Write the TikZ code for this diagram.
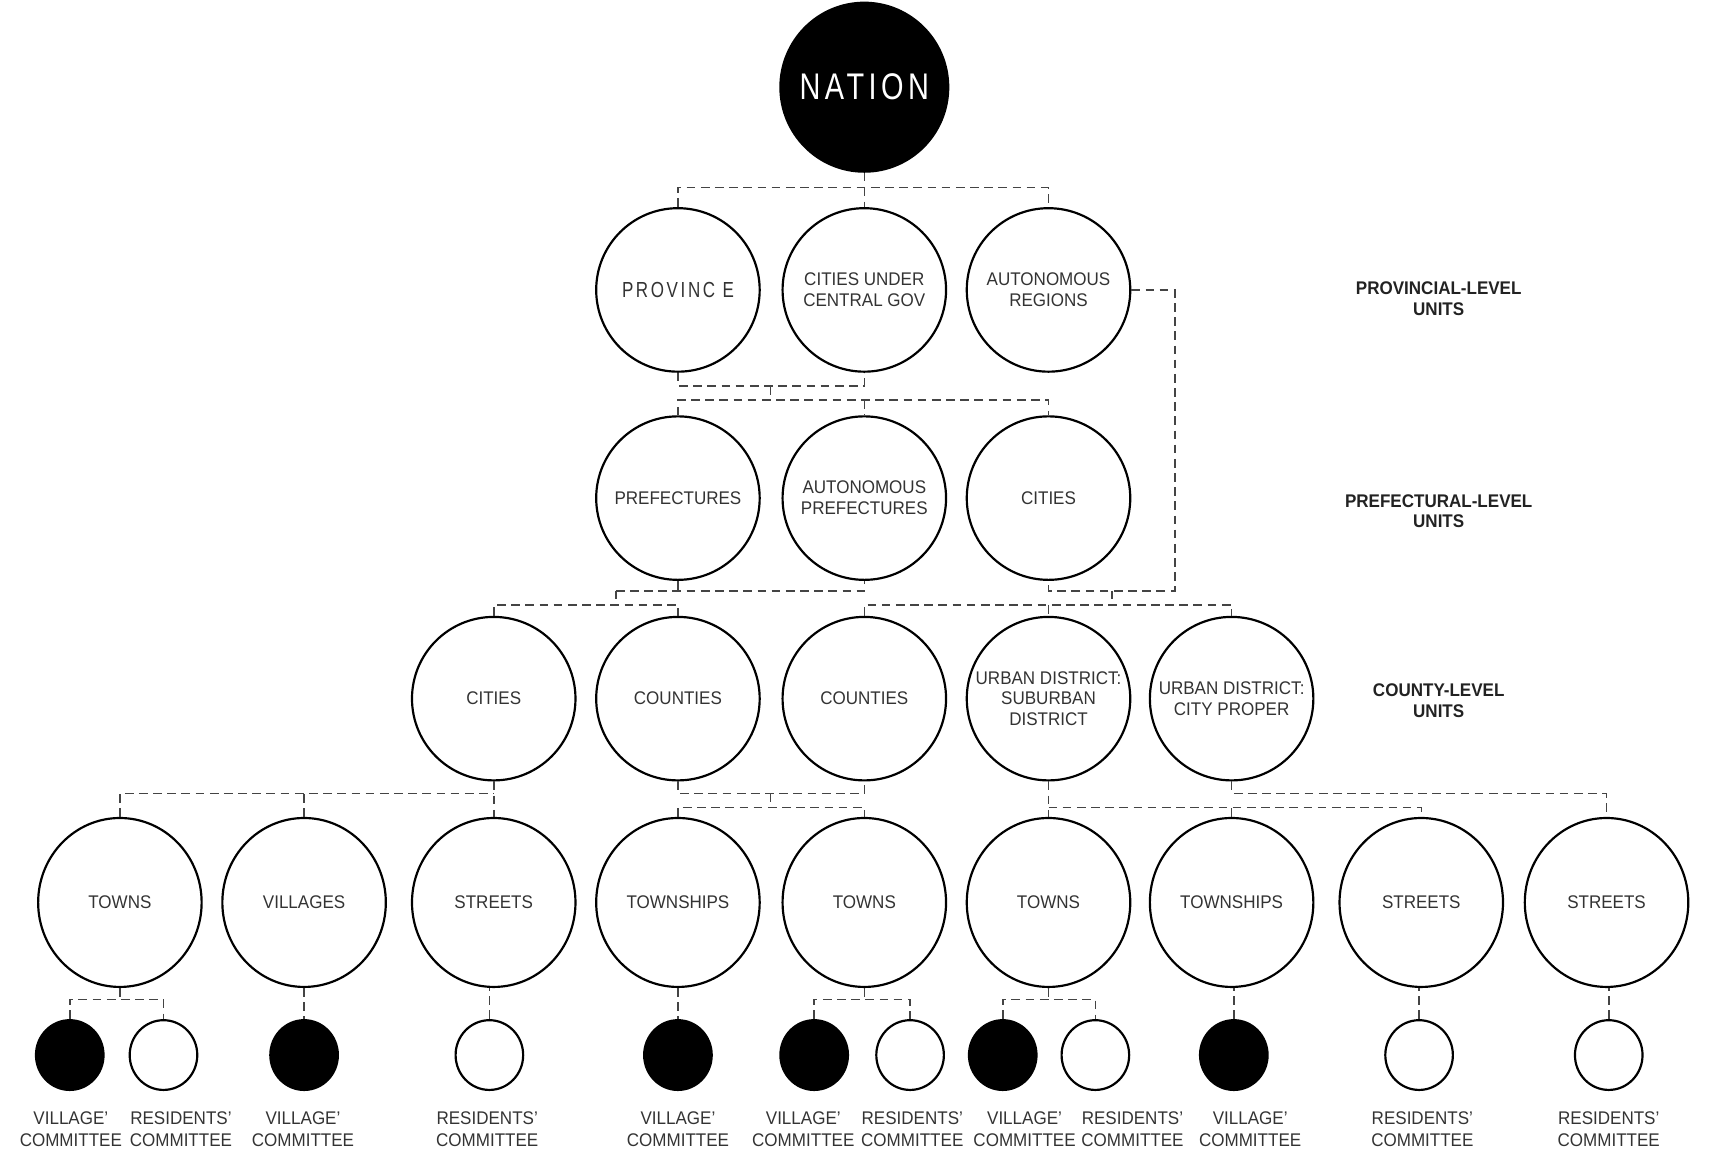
\documentclass[tikz,border=0pt]{standalone}
\usepackage{fontspec}
\setmainfont{Liberation Sans}[FakeStretch=0.93]
\newfontfamily\headfont{Liberation Sans}[FakeStretch=0.78,LetterSpace=12]
\usetikzlibrary{shapes.geometric}

\definecolor{txt}{HTML}{333333}
\definecolor{wire}{HTML}{444444}
\definecolor{head}{HTML}{222222}

\begin{document}
\begin{tikzpicture}[x=0.5pt,y=-0.5pt,
  unitbox/.style={ellipse,draw=black,line width=1pt,fill=white,inner sep=-20pt,
    minimum width=75pt,minimum height=75pt,align=center,text=txt,
    font=\fontsize{8.4}{9.6}\selectfont},
  tallbox/.style={unitbox,minimum height=77.5pt},
  apexbox/.style={unitbox,fill=black,text=white,minimum width=77pt,minimum height=77.5pt,
    font=\headfont\fontsize{17}{20}\selectfont},
  cmte/.style={ellipse,draw=black,line width=1pt,fill=white,inner sep=0pt,
    minimum width=31pt,minimum height=32pt},
  vcmte/.style={cmte,fill=black},
  cmtlabel/.style={align=center,text=txt,inner sep=0pt,font=\fontsize{8.4}{10}\selectfont},
  tierlabel/.style={align=center,text=head,inner sep=0pt,font=\bfseries\fontsize{8.4}{9.6}\selectfont},
  conn/.style={draw=wire,line width=0.7pt,dash pattern=on 4pt off 2.5pt}]

\useasboundingbox (0,0) rectangle (1568,1056);

% ---- nation
\node[apexbox] (nation) at (793,80) {NATION};

% ---- provincial level
\node[unitbox,font=\headfont\fontsize{10}{12}\selectfont] (prov) at (622,266) {PROVINC E};
\node[unitbox] (cucg)   at (793,266) {CITIES UNDER\\CENTRAL GOV};
\node[unitbox] (autreg) at (962,266) {AUTONOMOUS\\REGIONS};

% ---- prefectural level
\node[unitbox] (pref)   at (622,457) {PREFECTURES};
\node[unitbox] (aupref) at (793,457) {AUTONOMOUS\\PREFECTURES};
\node[unitbox] (city2)  at (962,457) {CITIES};

% ---- county level
\node[unitbox] (city3) at (453,641) {CITIES};
\node[unitbox] (ctya)  at (622,641) {COUNTIES};
\node[unitbox] (ctyb)  at (793,641) {COUNTIES};
\node[unitbox] (usub)  at (962,641) {URBAN DISTRICT:\\SUBURBAN\\DISTRICT};
\node[unitbox] (ucity) at (1130,641) {URBAN DISTRICT:\\CITY PROPER};

% ---- township level
\node[tallbox] (tw1)  at (110,828)  {TOWNS};
\node[tallbox] (vil)  at (279,828)  {VILLAGES};
\node[tallbox] (st1)  at (453,828)  {STREETS};
\node[tallbox] (tsp1) at (622,828)  {TOWNSHIPS};
\node[tallbox] (tw2)  at (793,828)  {TOWNS};
\node[tallbox] (tw3)  at (962,828)  {TOWNS};
\node[tallbox] (tsp2) at (1130,828) {TOWNSHIPS};
\node[tallbox] (st2)  at (1304,828) {STREETS};
\node[tallbox] (st3)  at (1474,828) {STREETS};

% ---- committees
\node[vcmte] (c1)  at (64,968)   {};
\node[cmte]  (c2)  at (150,968)  {};
\node[vcmte] (c3)  at (279,968)  {};
\node[cmte]  (c4)  at (449,968)  {};
\node[vcmte] (c5)  at (622,968)  {};
\node[vcmte] (c6)  at (747,968)  {};
\node[cmte]  (c7)  at (835,968)  {};
\node[vcmte] (c8)  at (920,968)  {};
\node[cmte]  (c9)  at (1005,968) {};
\node[vcmte] (c10) at (1132,968) {};
\node[cmte]  (c11) at (1302,968) {};
\node[cmte]  (c12) at (1476,968) {};

\node[cmtlabel] (l1)  at (65,1036)   {VILLAGE’\\COMMITTEE};
\node[cmtlabel] (l2)  at (166,1036)  {RESIDENTS’\\COMMITTEE};
\node[cmtlabel] (l3)  at (278,1036)  {VILLAGE’\\COMMITTEE};
\node[cmtlabel] (l4)  at (447,1036)  {RESIDENTS’\\COMMITTEE};
\node[cmtlabel] (l5)  at (622,1036)  {VILLAGE’\\COMMITTEE};
\node[cmtlabel] (l6)  at (737,1036)  {VILLAGE’\\COMMITTEE};
\node[cmtlabel] (l7)  at (837,1036)  {RESIDENTS’\\COMMITTEE};
\node[cmtlabel] (l8)  at (940,1036)  {VILLAGE’\\COMMITTEE};
\node[cmtlabel] (l9)  at (1039,1036) {RESIDENTS’\\COMMITTEE};
\node[cmtlabel] (l10) at (1147,1036) {VILLAGE’\\COMMITTEE};
\node[cmtlabel] (l11) at (1305,1036) {RESIDENTS’\\COMMITTEE};
\node[cmtlabel] (l12) at (1476,1036) {RESIDENTS’\\COMMITTEE};

% ---- tier captions
\node[tierlabel] (t1) at (1320,274) {PROVINCIAL-LEVEL\\UNITS};
\node[tierlabel] (t2) at (1320,469) {PREFECTURAL-LEVEL\\UNITS};
\node[tierlabel] (t3) at (1320,643) {COUNTY-LEVEL\\UNITS};

% ---- connectors: nation to provincial level
\coordinate (b0) at (793,172);
\draw[conn] (nation.south) -- (b0);
\draw[conn] (prov.north) |- (b0) -| (autreg.north);
\draw[conn] (b0) -- (cucg.north);

% ---- provincial to prefectural level
\coordinate (b1) at (707,354);
\coordinate (b2) at (707,367);
\draw[conn] (prov.south) |- (b1) -| (cucg.south);
\draw[conn] (b1) -- (b2);
\draw[conn] (pref.north) |- (b2) -| (city2.north);
\draw[conn] (b2 -| aupref.north) -- (aupref.north);

% ---- autonomous regions and cities to county level
\coordinate (rt) at (1078,542);
\coordinate (b3) at (1020,542);
\coordinate (b4) at (1020,555);
\draw[conn] (autreg.east) -| (rt) -| (city2.south);
\draw[conn] (b3) -- (b4);
\draw[conn] (ctyb.north) |- (b4) -| (ucity.north);
\draw[conn] (b4 -| usub.north) -- (usub.north);

% ---- prefectures to county level
\coordinate (b5) at (565,542);
\coordinate (b6) at (565,555);
\draw[conn] (pref.south) -- (pref.south |- b5);
\draw[conn] (b5) -| (aupref.south);
\draw[conn] (b5) -- (b6);
\draw[conn] (city3.north) |- (b6) -| (ctya.north);

% ---- county to township level
\coordinate (b7) at (453,728);
\draw[conn] (city3.south) -- (st1.north);
\draw[conn] (tw1.north) |- (b7);
\draw[conn] (vil.north) -- (vil.north |- b7);

\coordinate (b8) at (707,728);
\coordinate (b9) at (707,741);
\draw[conn] (ctya.south) |- (b8) -| (ctyb.south);
\draw[conn] (b8) -- (b9);
\draw[conn] (tsp1.north) |- (b9) -| (tw2.north);

\coordinate (b10) at (962,741);
\draw[conn] (usub.south) -- (tw3.north);
\draw[conn] (b10) -| (st2.north);
\draw[conn] (tsp2.north) -- (tsp2.north |- b10);

\coordinate (b11) at (1130,728);
\draw[conn] (ucity.south) -- (b11) -| (st3.north);

% ---- township level to committees
\coordinate (b12) at (110,917);
\draw[conn] (tw1.south) -- (b12);
\draw[conn] (c1.north) |- (b12) -| (c2.north);
\draw[conn] (vil.south) -- (c3.north);
\draw[conn] (c4.north) -- (c4.north |- st1.south);
\draw[conn] (tsp1.south) -- (c5.north);
\coordinate (b13) at (793,917);
\draw[conn] (tw2.south) -- (b13);
\draw[conn] (c6.north) |- (b13) -| (c7.north);
\coordinate (b14) at (962,917);
\draw[conn] (tw3.south) -- (b14);
\draw[conn] (c8.north) |- (b14) -| (c9.north);
\draw[conn] (c10.north) -- (c10.north |- tsp2.south);
\draw[conn] (c11.north) -- (c11.north |- st2.south);
\draw[conn] (c12.north) -- (c12.north |- st3.south);

\end{tikzpicture}
\end{document}
